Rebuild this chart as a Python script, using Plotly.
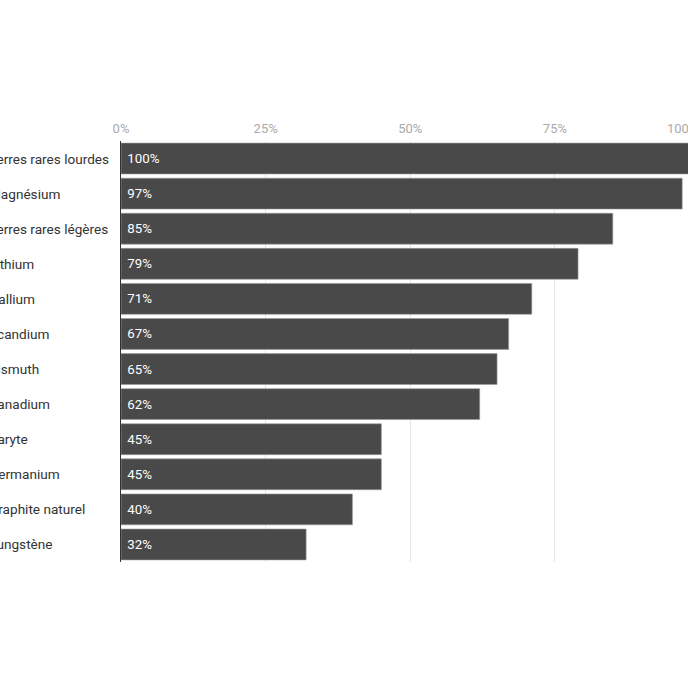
import plotly.graph_objects as go

# share of supply
categories = [
    "Terres rares lourdes", "Magnésium", "Terres rares légères", "Lithium",
    "Gallium", "Scandium", "Bismuth", "Vanadium", "Baryte", "Germanium",
    "Graphite naturel", "Tungstène",
]
values = [1.00, 0.97, 0.85, 0.79, 0.71, 0.67, 0.65, 0.62, 0.45, 0.45, 0.40, 0.32]
tick_vals = [0, 0.25, 0.5, 0.75, 1.0]
tick_text = ["0%", "25%", "50%", "75%", "100%"]

X_MAX = 0.98  # the original is cropped on the right, just before 100%
FONT = "Roboto"
W, H = 688, 688
L, T, B = 121, 141, 126
plot_w = W - L

fig = go.Figure(go.Bar(
    x=values,
    y=categories,
    orientation="h",
    # nbsp gives the label a little more room from the bar start
    text=[f"\u00a0{round(v * 100)}%" for v in values],
    textposition="inside",
    insidetextanchor="start",
    textfont=dict(family=FONT, size=13.3, color="white"),
    marker=dict(color="#494949", line=dict(color="#9a9a9a", width=0.6)),
    cliponaxis=True,
    hoverinfo="skip",
))

shown = [(v, t) for v, t in zip(tick_vals, tick_text) if v <= X_MAX]
fig.update_xaxes(
    range=[0, X_MAX],
    side="top",
    tickvals=[v for v, _ in shown],
    ticktext=[t for _, t in shown],
    tickfont=dict(family=FONT, size=13, color="#aaaaaa"),
    ticklabelstandoff=4,
    showgrid=True,
    gridcolor="#e6e6e6",
    gridwidth=1,
    zeroline=False,
    showline=False,
    ticks="",
    fixedrange=True,
)
fig.update_yaxes(
    autorange="reversed",
    showticklabels=False,
    showline=True,
    linecolor="#333333",
    linewidth=1,
    showgrid=False,
    ticks="",
    fixedrange=True,
)

# last tick label is pulled inward (right-aligned on its tick), then cut by the page edge
for v, t in zip(tick_vals, tick_text):
    if v > X_MAX:
        fig.add_annotation(
            x=v / X_MAX, xref="paper", y=1, yref="paper", yshift=13,
            text=t, showarrow=False, xanchor="right", yanchor="middle",
            font=dict(family=FONT, size=13, color="#aaaaaa"),
        )

# left-aligned category labels, starting just off the page on the left
for c in categories:
    fig.add_annotation(
        x=-(L + 13) / plot_w, xref="paper", y=c, yref="y",
        text=c, showarrow=False, xanchor="left", yanchor="middle",
        font=dict(family=FONT, size=13.6, color="#333333"),
    )

fig.update_layout(
    width=W,
    height=H,
    margin=dict(l=L, r=0, t=T, b=B, autoexpand=False),
    bargap=0.12,
    plot_bgcolor="white",
    paper_bgcolor="white",
    showlegend=False,
    font=dict(family=FONT),
)

fig.write_html(
    "out.html",
    config={"displayModeBar": False},
    post_script="document.body.style.margin = '0';",
)
